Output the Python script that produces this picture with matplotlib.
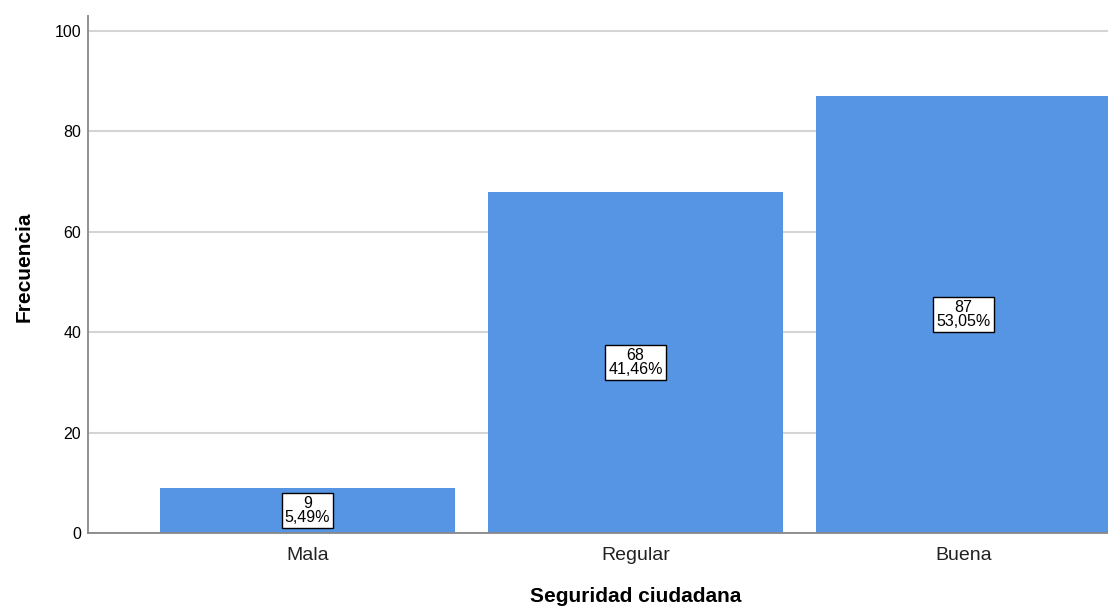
import numpy as np
import matplotlib.pyplot as plt

# Frequencies of perceived public safety
categories = ["Mala", "Regular", "Buena"]
counts = [9, 68, 87]
percents = ["5,49%", "41,46%", "53,05%"]

plt.rcParams['font.family'] = ['Liberation Sans', 'DejaVu Sans']

fig = plt.figure(figsize=(11.08, 6.08), dpi=100)
ax = fig.add_axes([0.0794, 0.1234, 0.9206, 0.8503])

x = np.arange(len(categories))
bars = ax.bar(x, counts, width=0.9, color='#5595e3', zorder=2)

# Value boxes at half bar height
for xi, c, p in zip(x, counts, percents):
    ax.text(xi, c / 2, f"{c}\n{p}", ha='center', va='center', fontsize=11.5,
            linespacing=0.88, zorder=3,
            bbox=dict(boxstyle='square,pad=0.2', fc='white', ec='black', lw=1))

ax.set_xlim(-0.669, 2.44)
ax.set_ylim(0, 103)
ax.set_yticks([0, 20, 40, 60, 80, 100])
ax.set_xticks(x)
ax.set_xticklabels(categories, fontsize=14, color='#222222')
ax.tick_params(axis='y', length=0, labelsize=11.5, pad=5)
ax.tick_params(axis='x', length=0, pad=10)
ax.grid(axis='y', color='#d4d4d4', lw=1.5, zorder=1)

for s in ['top', 'right']:
    ax.spines[s].set_visible(False)
for s in ['left', 'bottom']:
    ax.spines[s].set_color('#888888')
    ax.spines[s].set_linewidth(1.3)

# Axis titles placed in figure pixels to match the original layout
fig.text(636 / 1108, 1 - 596 / 608, 'Seguridad ciudadana', fontsize=15,
         fontweight='bold', ha='center', va='center')
fig.text(24 / 1108, 1 - 267 / 608, 'Frecuencia', fontsize=15,
         fontweight='bold', ha='center', va='center', rotation=90)

fig.savefig('out.png', dpi=100)
